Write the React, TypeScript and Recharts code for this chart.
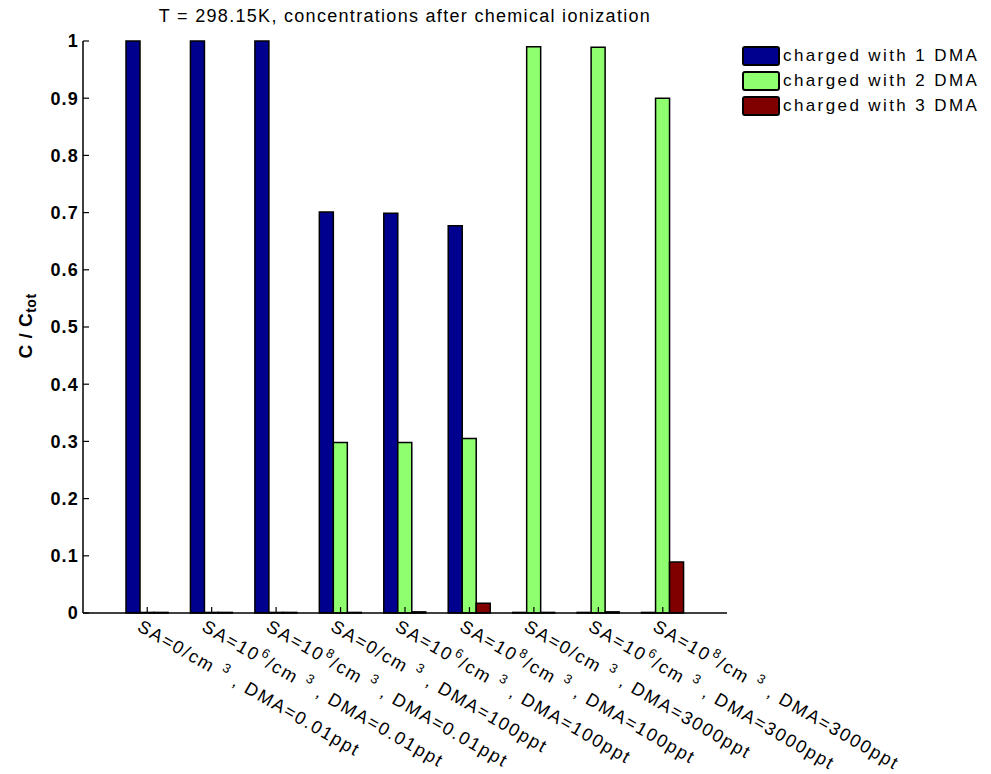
import React from 'react';
import { BarChart, Bar, XAxis, YAxis, Legend } from 'recharts';

// groups along the x axis, ^n marks a superscript
const categories = [
  'SA=0/cm ^3 , DMA=0.01ppt',
  'SA=10^6/cm ^3 , DMA=0.01ppt',
  'SA=10^8/cm ^3 , DMA=0.01ppt',
  'SA=0/cm ^3 , DMA=100ppt',
  'SA=10^6/cm ^3 , DMA=100ppt',
  'SA=10^8/cm ^3 , DMA=100ppt',
  'SA=0/cm ^3 , DMA=3000ppt',
  'SA=10^6/cm ^3 , DMA=3000ppt',
  'SA=10^8/cm ^3 , DMA=3000ppt',
];

const oneDMA = [1, 1, 1, 0.701, 0.699, 0.677, 0.001, 0.001, 0.001];
const twoDMA = [0.001, 0.001, 0.001, 0.298, 0.298, 0.305, 0.99, 0.989, 0.9];
const threeDMA = [0.001, 0.001, 0.001, 0.001, 0.002, 0.017, 0.001, 0.002, 0.089];

const yTicks = [0, 0.1, 0.2, 0.3, 0.4, 0.5, 0.6, 0.7, 0.8, 0.9, 1];

const seriesNames = ['charged with 1 DMA', 'charged with 2 DMA', 'charged with 3 DMA'];
const seriesColors = ['#00008F', '#8FFF6F', '#800000'];

const data = categories.map((name, i) => ({
  name,
  one: oneDMA[i],
  two: twoDMA[i],
  three: threeDMA[i],
}));

const FONT = '"Liberation Sans", Arial, sans-serif';
const TICK_LEN = 6;

const LeftTick = (props: any) => {
  const { x, y, payload } = props;
  return (
    <g>
      <line x1={x} x2={x + TICK_LEN} y1={y} y2={y} stroke="#000" strokeWidth={1.2} />
      <text x={x - 4} y={y} dy="0.36em" textAnchor="end" fontFamily={FONT} fontSize={18} fontWeight="bold" letterSpacing={1.2} fill="#000">
        {payload.value}
      </text>
    </g>
  );
};

const RightTick = (props: any) => {
  const { x, y } = props;
  return <line x1={x} x2={x - TICK_LEN} y1={y} y2={y} stroke="#000" strokeWidth={1.2} />;
};

const TopTick = (props: any) => {
  const { x, y } = props;
  return <line x1={x} x2={x} y1={y} y2={y + TICK_LEN} stroke="#000" strokeWidth={1.2} />;
};

const BottomTick = (props: any) => {
  const { x, y, payload } = props;
  const parts = String(payload.value).split(/\^(\d)/);
  return (
    <g>
      <line x1={x} x2={x} y1={y} y2={y - TICK_LEN} stroke="#000" strokeWidth={1.2} />
      <g transform={`translate(${x - 4},${y + 5}) rotate(30)`}>
        <text x={0} y={14} fontFamily={FONT} fontSize={18} fill="#000" letterSpacing={1.8}>
          {parts.map((p, i) =>
            i % 2 === 1 ? (
              <tspan key={i} dx={1} dy={-8} fontSize={13}>{p}</tspan>
            ) : (
              <tspan key={i} dy={i > 0 ? 8 : undefined}>{p}</tspan>
            )
          )}
        </text>
      </g>
    </g>
  );
};

const LegendBox = () => (
  <div style={{ fontFamily: FONT, fontSize: 17, color: '#000', background: '#fff' }}>
    {seriesNames.map((n, i) => (
      <div key={n} style={{ display: 'flex', alignItems: 'center', height: 25 }}>
        <div
          style={{
            width: 34,
            height: 16,
            background: seriesColors[i],
            border: '2.5px solid #000',
            borderRadius: 3,
            marginRight: 3,
          }}
        />
        <span style={{ letterSpacing: 2.4 }}>{n}</span>
      </div>
    ))}
  </div>
);

export default function App() {
  return (
    <div style={{ position: 'absolute', left: 0, top: 0, width: 991, height: 774, background: '#fff' }}>
      <div
        style={{
          position: 'absolute',
          left: 405,
          top: 6,
          transform: 'translateX(-50%)',
          whiteSpace: 'nowrap',
          fontFamily: FONT,
          fontSize: 18,
          letterSpacing: 1.3,
          color: '#000',
        }}
      >
        T = 298.15K, concentrations after chemical ionization
      </div>
      <div
        style={{
          position: 'absolute',
          left: 27,
          top: 326,
          transform: 'translate(-50%,-50%) rotate(-90deg)',
          whiteSpace: 'nowrap',
          fontFamily: FONT,
          fontSize: 19,
          fontWeight: 'bold',
          letterSpacing: 0.5,
          color: '#000',
        }}
      >
        C / C<sub style={{ fontSize: 14 }}>tot</sub>
      </div>
      <BarChart
        width={991}
        height={774}
        data={data}
        margin={{ top: 41, right: 264, bottom: 0, left: 0 }}
        barGap={0}
        style={{ position: 'absolute', left: 0, top: 0 }}
      >
        <XAxis
          dataKey="name"
          height={161}
          padding={{ left: 32, right: 32 }}
          axisLine={{ stroke: '#000', strokeWidth: 1.5 }}
          tickLine={false}
          tickSize={0}
          tickMargin={0}
          interval={0}
          tick={<BottomTick />}
        />
        <XAxis
          xAxisId="top"
          dataKey="name"
          orientation="top"
          height={0}
          padding={{ left: 32, right: 32 }}
          axisLine={{ stroke: '#000', strokeWidth: 1.5 }}
          tickLine={false}
          tickSize={0}
          tickMargin={0}
          interval={0}
          tick={<TopTick />}
        />
        <YAxis
          type="number"
          domain={[0, 1]}
          ticks={yTicks}
          width={83}
          axisLine={{ stroke: '#000', strokeWidth: 1.5 }}
          tickLine={false}
          tickSize={0}
          tickMargin={0}
          interval={0}
          tick={<LeftTick />}
        />
        <YAxis
          yAxisId="right"
          orientation="right"
          type="number"
          domain={[0, 1]}
          ticks={yTicks}
          width={0}
          axisLine={{ stroke: '#000', strokeWidth: 1.5 }}
          tickLine={false}
          tickSize={0}
          tickMargin={0}
          interval={0}
          tick={<RightTick />}
        />
        <Legend
          layout="vertical"
          align="center"
          verticalAlign="middle"
          content={<LegendBox />}
          wrapperStyle={{ left: 742, top: 43, width: 249 }}
        />
        <Bar dataKey="one" name={seriesNames[0]} fill={seriesColors[0]} stroke="#000" strokeWidth={1.5} barSize={14} isAnimationActive={false} />
        <Bar dataKey="two" name={seriesNames[1]} fill={seriesColors[1]} stroke="#000" strokeWidth={1.5} barSize={14} isAnimationActive={false} />
        <Bar dataKey="three" name={seriesNames[2]} fill={seriesColors[2]} stroke="#000" strokeWidth={1.5} barSize={14} isAnimationActive={false} />
      </BarChart>
    </div>
  );
}
